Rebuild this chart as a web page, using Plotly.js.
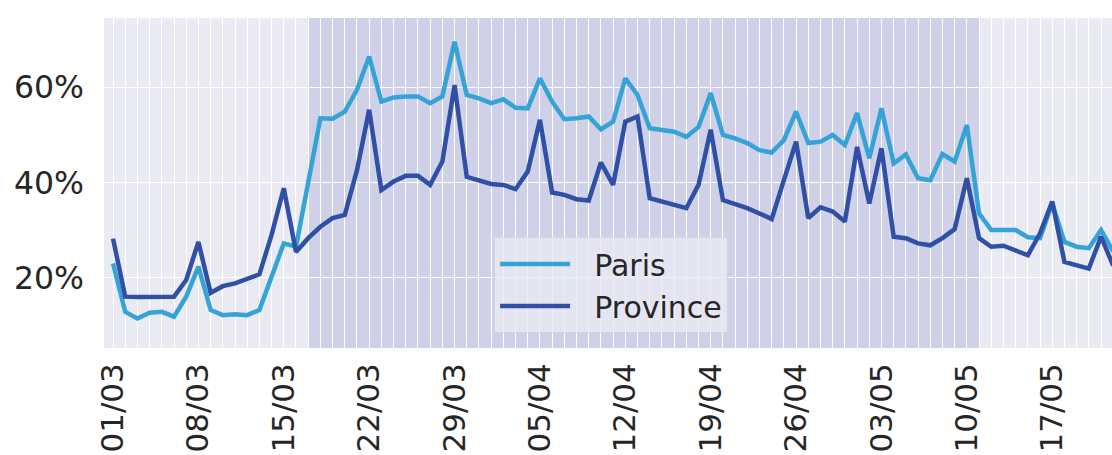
<!DOCTYPE html>
<html>
<head>
<meta charset="utf-8">
<script src="https://cdn.plot.ly/plotly-3.0.1.min.js"></script>
<style>html,body{margin:0;padding:0;background:#fff;}#chart{width:1112px;height:455px;}</style>
</head>
<body>
<div id="chart"></div>
<script>
// Daily share (%) from 01/03/2020
const startDate = '2020-03-01';
const lockdownStart = '2020-03-17';
const lockdownEnd = '2020-05-11';
const seriesNames = ['Paris', 'Province'];
const paris = [23.0, 12.8, 11.4, 12.6, 12.8, 11.8, 16.0, 22.3, 13.2, 12.1, 12.3, 12.1, 13.2, 20.2, 27.2, 26.5,
  40.0, 53.5, 53.4, 54.9, 59.5, 66.5, 57.0, 57.9, 58.1, 58.1, 56.7, 58.1, 69.6, 58.4, 57.7, 56.7,
  57.5, 55.7, 55.6, 61.9, 57.0, 53.3, 53.5, 53.9, 51.2, 52.8, 61.9, 58.4, 51.4, 51.1, 50.7, 49.6,
  51.7, 58.8, 50.0, 49.3, 48.3, 46.8, 46.3, 48.9, 54.9, 48.3, 48.6, 50.0, 47.9, 54.6, 45.1, 55.6,
  44.0, 45.9, 40.9, 40.5, 46.0, 44.4, 52.1, 33.5, 30.0, 30.0, 30.0, 28.5, 28.3, 35.6, 27.5, 26.5,
  26.2, 30.0, 25.5];
const province = [28.2, 16.0, 15.9, 15.9, 16.0, 16.0, 19.5, 27.5, 16.8, 18.2, 18.8, 19.8, 20.7, 29.0, 38.8, 25.4,
  28.3, 30.7, 32.5, 33.2, 42.6, 55.3, 38.4, 40.2, 41.4, 41.4, 39.5, 44.4, 60.5, 41.2, 40.5, 39.7,
  39.5, 38.6, 42.3, 53.2, 37.9, 37.4, 36.5, 36.2, 44.2, 39.5, 52.8, 53.9, 36.7, 36.0, 35.1, 34.6,
  39.5, 51.1, 36.3, 35.5, 34.6, 33.5, 32.3, 40.5, 48.6, 32.5, 34.8, 33.9, 31.8, 47.5, 35.6, 47.2,
  28.6, 28.3, 27.2, 26.8, 28.3, 30.2, 40.9, 28.3, 26.5, 26.7, 25.6, 24.7, 29.3, 36.0, 23.3, 22.6,
  21.9, 28.6, 22.5];
const yTickVals = [20, 40, 60];
const yTickText = ['20%', '40%', '60%'];

const DAY = 86400000;
function fmt(ms) { return new Date(ms).toISOString().replace('T', ' ').replace('Z', ''); }
const t0 = Date.parse(startDate + 'T00:00:00Z');
const dates = paris.map((_, i) => fmt(t0 + i * DAY));
const pad = '\u00a0\u00a0';

const traces = [
  {x: dates, y: paris, name: pad + seriesNames[0], type: 'scatter', mode: 'lines',
   line: {color: '#36a3d6', width: 4.5}},
  {x: dates, y: province, name: pad + seriesNames[1], type: 'scatter', mode: 'lines',
   line: {color: '#3050a6', width: 4.5}}
];

const font = 'DejaVu Sans, sans-serif';
const layout = {
  width: 1112, height: 455,
  margin: {l: 104, r: 0, t: 18, b: 107},
  paper_bgcolor: '#ffffff',
  plot_bgcolor: '#eaeaf2',
  font: {family: font, color: '#262626', size: 31},
  showlegend: true,
  legend: {
    x: 0.387, y: 0.336, xanchor: 'left', yanchor: 'top',
    bgcolor: 'rgba(234,234,242,0.8)', bordercolor: '#d2d3de', borderwidth: 1,
    font: {family: font, size: 30, color: '#262626'},
    itemwidth: 70, tracegroupgap: 0
  },
  xaxis: {
    type: 'date',
    range: [fmt(t0 - 0.74 * DAY), fmt(t0 + 81.9 * DAY)],
    tick0: startDate, dtick: 7 * DAY, tickformat: '%d/%m', tickangle: -90,
    showgrid: true, gridcolor: '#ffffff', gridwidth: 1,
    minor: {dtick: DAY, tick0: startDate, showgrid: true, gridcolor: '#ffffff', gridwidth: 1},
    ticks: '', showline: false, zeroline: false,
    ticklabelstandoff: 8,
    tickfont: {family: font, size: 31, color: '#262626'}
  },
  yaxis: {
    range: [5.2, 74.6],
    tickvals: yTickVals, ticktext: yTickText,
    showgrid: true, gridcolor: '#ffffff', gridwidth: 1.4,
    ticks: '', showline: false, zeroline: false,
    ticklabelstandoff: 19,
    tickfont: {family: font, size: 31.5, color: '#262626'}
  },
  shapes: [{
    type: 'rect', xref: 'x', yref: 'paper',
    x0: lockdownStart, x1: lockdownEnd, y0: 0, y1: 1,
    fillcolor: 'rgba(97,112,189,0.2)', line: {width: 0}, layer: 'between'
  }]
};

Plotly.newPlot('chart', traces, layout, {displayModeBar: false, staticPlot: true});
</script>
</body>
</html>
